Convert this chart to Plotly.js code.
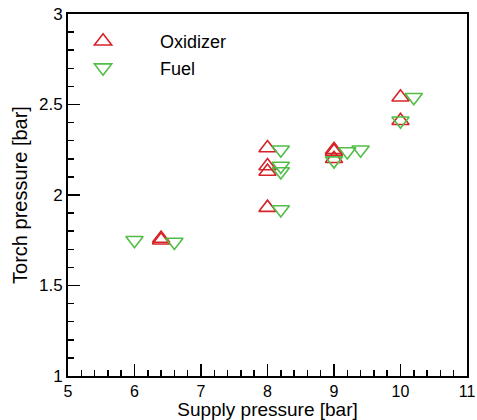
<!DOCTYPE html>
<html>
<head>
<meta charset="utf-8">
<script src="https://cdn.plot.ly/plotly-3.0.1.min.js"></script>
<style>html,body{margin:0;padding:0;background:#fff;}#chart{width:477px;height:420px;}</style>
</head>
<body>
<div id="chart"></div>
<script>
const oxidizerX = [6.4, 6.4, 8, 8, 8, 8, 9, 9, 9, 10, 10];
const oxidizerY = [1.75, 1.76, 2.26, 2.16, 2.13, 1.93, 2.25, 2.24, 2.20, 2.54, 2.41];
const fuelX = [6.0, 6.6, 8.2, 8.2, 8.2, 8.2, 9.0, 9.2, 9.4, 10.2, 10.0];
const fuelY = [1.75, 1.74, 2.25, 2.16, 2.13, 1.92, 2.19, 2.24, 2.25, 2.54, 2.41];
const seriesNames = ["Oxidizer", "Fuel"];

const red = "rgb(214,35,40)";
const green = "rgb(80,190,70)";

const traces = [
  {x: oxidizerX, y: oxidizerY, name: seriesNames[0], type: "scatter", mode: "markers",
   marker: {symbol: "triangle-up-open", size: 15, color: red, line: {width: 1.6, color: red}}},
  {x: fuelX, y: fuelY, name: seriesNames[1], type: "scatter", mode: "markers",
   marker: {symbol: "triangle-down-open", size: 15, color: green, line: {width: 1.6, color: green}}}
];

const fam = "Liberation Sans, Arial, sans-serif";

const layout = {
  width: 477, height: 420,
  margin: {l: 68, r: 10, t: 14, b: 44},
  paper_bgcolor: "#fff", plot_bgcolor: "#fff",
  font: {family: fam, size: 16, color: "#000"},
  showlegend: true,
  legend: {x: -0.055, y: 0.975, xanchor: "left", yanchor: "top", itemwidth: 104,
           bgcolor: "rgba(0,0,0,0)", font: {family: fam, size: 18, color: "#000"}},
  xaxis: {
    range: [5, 11], dtick: 1, tick0: 5,
    showline: true, mirror: true, linecolor: "#000", linewidth: 2,
    ticks: "inside", ticklen: 12, tickwidth: 1.5, tickcolor: "#000",
    minor: {dtick: 0.2, ticks: "inside", ticklen: 6, tickwidth: 1.5, tickcolor: "#000", showgrid: false},
    showgrid: false, zeroline: false,
    tickfont: {family: fam, size: 16, color: "#000"},
    title: {text: "Supply pressure [bar]", font: {family: fam, size: 19, color: "#000"}, standoff: 3}
  },
  yaxis: {
    range: [1, 3], dtick: 0.5, tick0: 1,
    showline: true, mirror: true, linecolor: "#000", linewidth: 2,
    ticks: "inside", ticklen: 12, tickwidth: 1.5, tickcolor: "#000",
    minor: {dtick: 0.1, ticks: "inside", ticklen: 6, tickwidth: 1.5, tickcolor: "#000", showgrid: false},
    showgrid: false, zeroline: false,
    tickfont: {family: fam, size: 17, color: "#000"},
    title: {text: "Torch pressure [bar]", font: {family: fam, size: 20, color: "#000"}, standoff: 6}
  }
};

Plotly.newPlot("chart", traces, layout, {displayModeBar: false, staticPlot: true});
</script>
</body>
</html>
